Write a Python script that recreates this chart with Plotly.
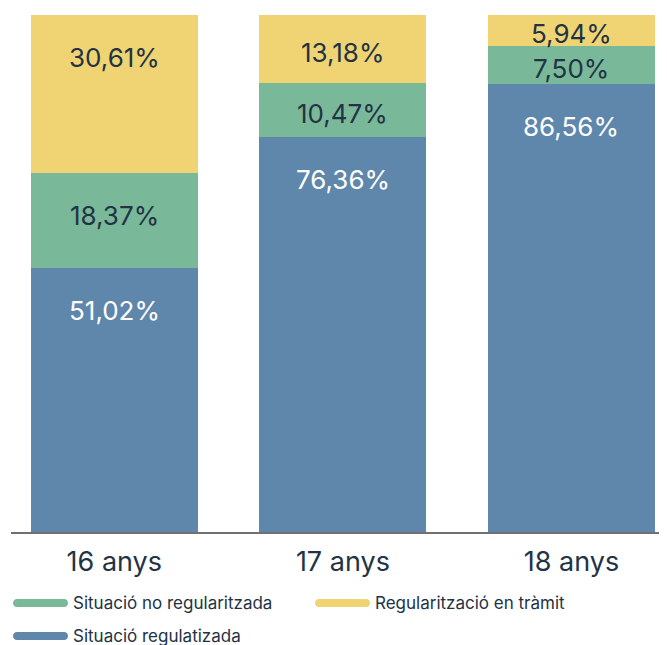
import plotly.graph_objects as go

# --- data ---
ages = ["16 anys", "17 anys", "18 anys"]
regularitzada = [51.02, 76.36, 86.56]
no_regularitzada = [18.37, 10.47, 7.50]
en_tramit = [30.61, 13.18, 5.94]

series_names = ["Situació regulatizada", "Situació no regularitzada", "Regularització en tràmit"]
series_values = [regularitzada, no_regularitzada, en_tramit]
series_colors = ["#5f87ab", "#79b999", "#f0d474"]
label_colors = ["#ffffff", "#223345", "#223345"]

FONT = "Inter"
DARK = "#223345"
# page body adds an 8px margin, so the figure is sized for the remaining window
W, H = 659, 637
M_L, M_R, M_T, M_B = 3, 0, 7, 113
plot_h = H - M_T - M_B
plot_w = W - M_L - M_R
px_per_unit = plot_h / 100.0
Y_MAX = 100

fig = go.Figure()
xs = list(range(len(ages)))

for name, vals, col in zip(series_names, series_values, series_colors):
    fig.add_trace(go.Bar(
        x=xs, y=vals, name=name, marker=dict(color=col, line=dict(width=0)),
        width=0.73, showlegend=False, hoverinfo="skip",
    ))

# value labels near the top of every segment
annotations = []
for i in xs:
    base = 0
    for vals, tcol in zip(series_values, label_colors):
        v = vals[i]
        top = base + v
        off = min(42, v * px_per_unit / 2 + 3)
        annotations.append(dict(
            x=i, y=min(top, Y_MAX), xref="x", yref="y", yshift=-off, yanchor="middle",
            text=f"{v:.2f}".replace(".", ",") + "%", showarrow=False,
            font=dict(family=FONT, size=26, color=tcol),
        ))
        base = top

# manual legend: pill symbols + text (offsets in px from plot's bottom-left)
legend_items = [
    (series_names[1], series_colors[1], 2, -71),
    (series_names[2], series_colors[2], 304, -71),
    (series_names[0], series_colors[0], 2, -104),
]
pill_w, r, k = 55, 4, 1.3
shapes = []
for name, col, x0, dy in legend_items:
    t, b = r + dy, -r + dy
    path = (f"M {r},{t} L {pill_w - r},{t} C {pill_w + k},{t} {pill_w + k},{b} {pill_w - r},{b} "
            f"L {r},{b} C {-k},{b} {-k},{t} {r},{t} Z")
    shapes.append(dict(
        type="path", xref="paper", yref="paper", xsizemode="pixel", ysizemode="pixel",
        xanchor=x0 / plot_w, yanchor=0, path=path,
        fillcolor=col, line=dict(width=0),
    ))
    annotations.append(dict(
        x=(x0 + pill_w + 3) / plot_w, y=0, xref="paper", yref="paper",
        xanchor="left", yanchor="middle", yshift=dy,
        text=name, showarrow=False, font=dict(family=FONT, size=17, color=DARK),
    ))

fig.update_layout(
    width=W, height=H,
    margin=dict(l=M_L, r=M_R, t=M_T, b=M_B),
    barmode="stack",
    paper_bgcolor="white", plot_bgcolor="white",
    showlegend=False,
    annotations=annotations,
    shapes=shapes,
    font=dict(family=FONT, color=DARK),
)
fig.update_xaxes(
    tickmode="array", tickvals=xs, ticktext=ages,
    range=[-0.452, 2.418], showgrid=False, zeroline=False,
    showline=True, linecolor="#707070", linewidth=2,
    ticks="outside", ticklen=5, tickcolor="rgba(0,0,0,0)",
    tickfont=dict(family=FONT, size=27, color=DARK),
    fixedrange=True,
)
fig.update_yaxes(range=[0, Y_MAX], visible=False, fixedrange=True)

fig.write_html("out.html")
